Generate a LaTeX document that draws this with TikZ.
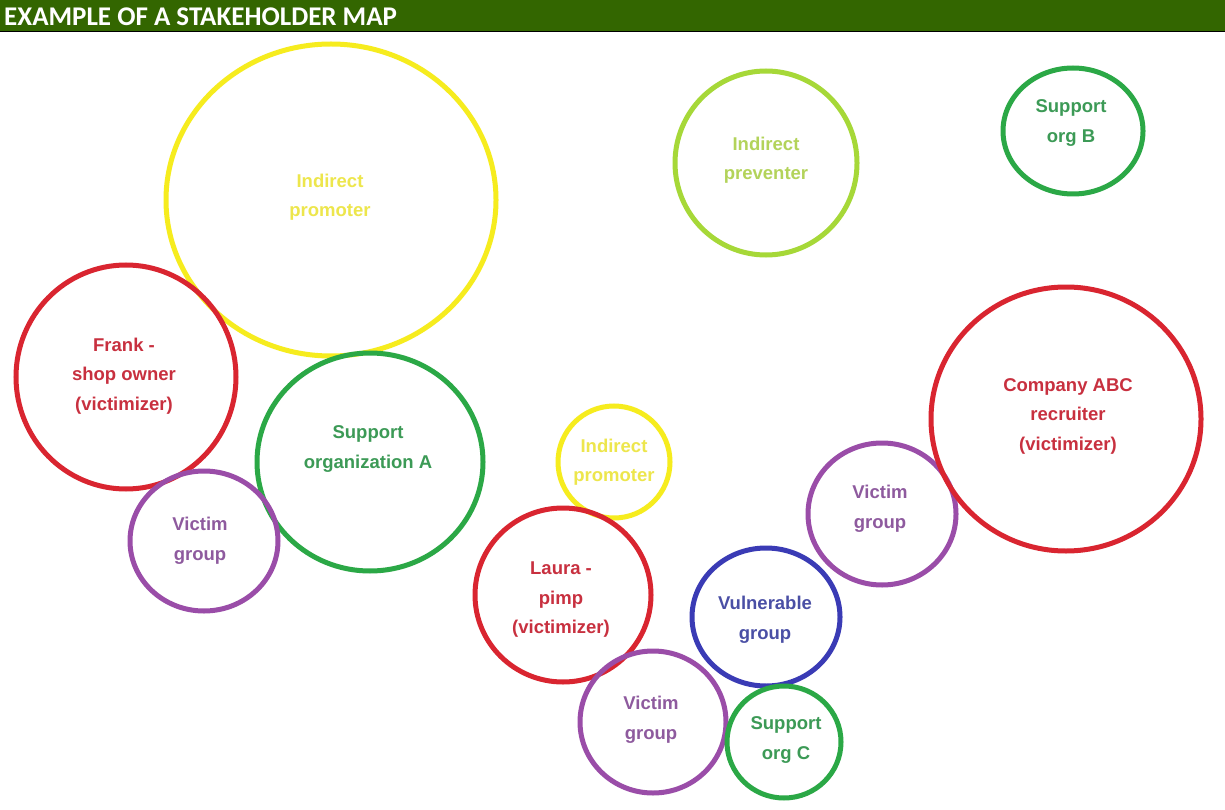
\documentclass[tikz,border=0pt]{standalone}
\usepackage{fontspec}
\setmainfont{Liberation Sans}
\newfontfamily\headfont{Carlito}
\definecolor{hdrgreen}{HTML}{336600}
\definecolor{cyellow}{HTML}{F6EC1E}
\definecolor{tyellow}{HTML}{EDE64C}
\definecolor{cred}{HTML}{D92530}
\definecolor{tred}{HTML}{C8303F}
\definecolor{cgreen}{HTML}{2BA846}
\definecolor{tgreen}{HTML}{3C9A56}
\definecolor{cpurple}{HTML}{9A4DA8}
\definecolor{tpurple}{HTML}{8E5A9E}
\definecolor{cblue}{HTML}{3A3BB5}
\definecolor{tblue}{HTML}{4A4FA5}
\definecolor{cygreen}{HTML}{A6D838}
\definecolor{tygreen}{HTML}{B3D35A}
\tikzset{
  ring/.style={draw=#1, line width=5pt},
  lbl/.style={font=\fontsize{18.5}{29.5}\selectfont\bfseries, text=#1, align=center, inner sep=0pt},
}
\begin{document}
\begin{tikzpicture}[x=1pt,y=-1pt]
\useasboundingbox (0,0) rectangle (1225,810);
\fill[white] (0,0) rectangle (1225,810);
% header
\fill[hdrgreen] (0,0) rectangle (1225,31);
\draw[black, line width=1.5pt] (0,31.5) -- (1225,31.5);
\node[anchor=west, text=white, font=\headfont\bfseries\fontsize{27}{28}\selectfont, inner sep=0pt] (title) at (4,17) {EXAMPLE OF A STAKEHOLDER MAP};
% circles
\draw[ring=cyellow] (331,200) ellipse [x radius=165, y radius=156];
\draw[ring=cygreen] (766,163) ellipse [x radius=91, y radius=92];
\draw[ring=cgreen] (1073,131) ellipse [x radius=70, y radius=63];
\draw[ring=cred] (126,377) ellipse [x radius=110, y radius=112];
\draw[ring=cgreen] (370,462) ellipse [x radius=113, y radius=109];
\draw[ring=cpurple] (204,541) ellipse [x radius=74, y radius=70];
\draw[ring=cyellow] (614,462) ellipse [x radius=56, y radius=56];
\draw[ring=cred] (563,595) ellipse [x radius=88, y radius=87];
\draw[ring=cpurple] (653,722) ellipse [x radius=73, y radius=71];
\draw[ring=cblue] (766,617) ellipse [x radius=74, y radius=69];
\draw[ring=cgreen] (784,742) ellipse [x radius=57, y radius=56];
\draw[ring=cpurple] (882,514) ellipse [x radius=74, y radius=71];
\draw[ring=cred] (1066,419) ellipse [x radius=135, y radius=132];
% labels
\node[lbl=tyellow] (ip1) at (330,197) {Indirect\\promoter};
\node[lbl=tygreen] (ipv) at (766,160) {Indirect\\preventer};
\node[lbl=tgreen] (sob) at (1071,123) {Support\\org B};
\node[lbl=tred] (frank) at (124,376) {Frank -\\shop owner\\(victimizer)};
\node[lbl=tgreen] (soa) at (368,449) {Support\\organization A};
\node[lbl=tpurple] (vg1) at (200,541) {Victim\\group};
\node[lbl=tyellow] (ip2) at (614,462) {Indirect\\promoter};
\node[lbl=tred] (laura) at (561,600) {Laura -\\pimp\\(victimizer)};
\node[lbl=tblue] (vul) at (765,620) {Vulnerable\\group};
\node[lbl=tpurple] (vg2) at (651,720) {Victim\\group};
\node[lbl=tgreen] (soc) at (786,740) {Support\\org C};
\node[lbl=tpurple] (vg3) at (880,509) {Victim\\group};
\node[lbl=tred] (abc) at (1068,416) {Company ABC\\recruiter\\(victimizer)};
\end{tikzpicture}
\end{document}
